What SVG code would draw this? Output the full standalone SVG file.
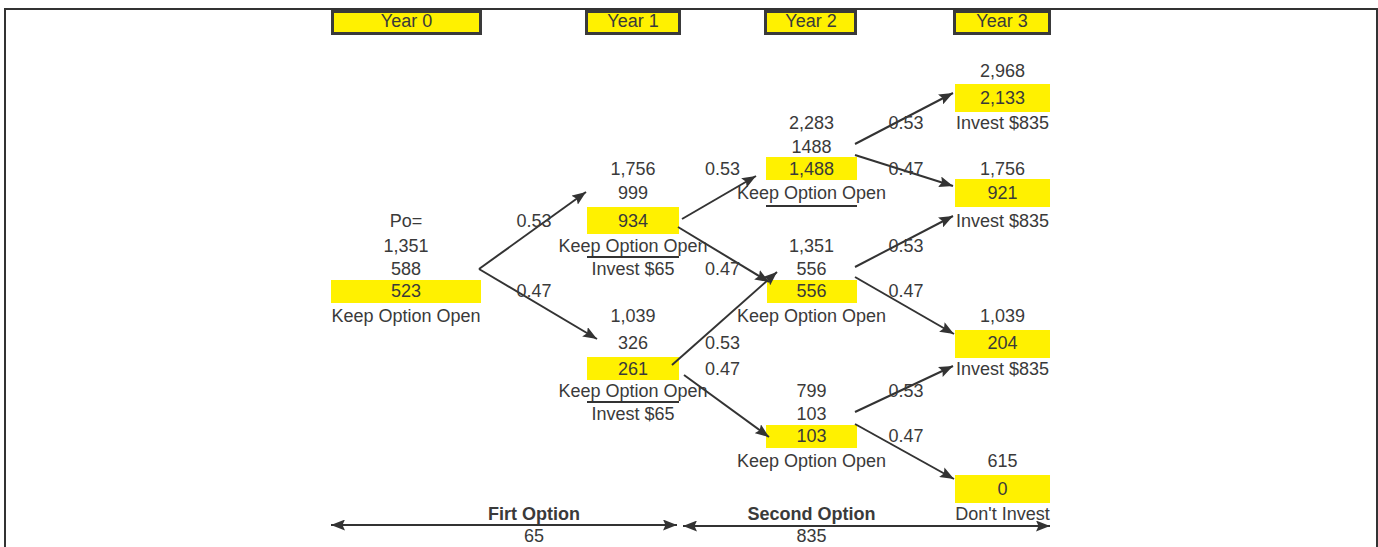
<svg xmlns="http://www.w3.org/2000/svg" width="1378" height="547" viewBox="0 0 1378 547">
<style>
text{font-family:"Liberation Sans",Arial,sans-serif;font-size:18px;fill:#3a3a3a;text-anchor:middle}
.b{font-weight:bold}
.y{fill:#FFF100}
.yr{fill:#FFF100;stroke:#3a3a3a;stroke-width:3}
.c{stroke:#333;stroke-width:2;fill:none}
.ul{stroke:#333;stroke-width:2}
</style>
<defs>
<marker id="ah" viewBox="0 0 14 11" refX="14" refY="5.5" markerWidth="14" markerHeight="11" markerUnits="userSpaceOnUse" orient="auto-start-reverse">
<path d="M0,0 L14,5.5 L0,11 L2.5,5.5 z" fill="#333"/>
</marker>
</defs>
<rect x="5" y="9" width="1372" height="600" fill="none" stroke="#333" stroke-width="2"/>

<g id="year0"><rect class="yr" x="332.5" y="11.5" width="148" height="22"/><text x="406.5" y="27">Year 0</text></g>
<g id="year1"><rect class="yr" x="586.5" y="11.5" width="93" height="22"/><text x="633" y="27">Year 1</text></g>
<g id="year2"><rect class="yr" x="765.5" y="11.5" width="90" height="22"/><text x="811" y="27">Year 2</text></g>
<g id="year3"><rect class="yr" x="954.5" y="11.5" width="95" height="22"/><text x="1002" y="27">Year 3</text></g>

<g id="n0">
<text x="406" y="227">Po=</text>
<text x="406" y="252">1,351</text>
<text x="406" y="275">588</text>
<rect class="y" x="331" y="280" width="150" height="23"/>
<text x="406" y="297">523</text>
<text x="406" y="322">Keep Option Open</text>
</g>

<g id="n1u">
<text x="633" y="175">1,756</text>
<text x="633" y="199">999</text>
<rect class="y" x="587" y="207" width="92" height="27"/>
<text x="633" y="227">934</text>
<text x="633" y="252">Keep Option Open</text>
<line class="ul" x1="587" y1="257" x2="679" y2="257"/>
<text x="633" y="275">Invest $65</text>
</g>

<g id="n1d">
<text x="633" y="322">1,039</text>
<text x="633" y="349">326</text>
<rect class="y" x="587" y="357" width="92" height="23"/>
<text x="633" y="375">261</text>
<text x="633" y="397">Keep Option Open</text>
<line class="ul" x1="587" y1="402" x2="679" y2="402"/>
<text x="633" y="420">Invest $65</text>
</g>

<g id="n2u">
<text x="811.5" y="129">2,283</text>
<text x="811.5" y="153">1488</text>
<rect class="y" x="766" y="157" width="91" height="23"/>
<text x="811.5" y="175">1,488</text>
<text x="811.5" y="199">Keep Option Open</text>
<line class="ul" x1="766" y1="206" x2="857" y2="206"/>
</g>

<g id="n2m">
<text x="811.5" y="252">1,351</text>
<text x="811.5" y="275">556</text>
<rect class="y" x="767" y="280" width="90" height="23"/>
<text x="811.5" y="297">556</text>
<text x="811.5" y="322">Keep Option Open</text>
</g>

<g id="n2d">
<text x="811.5" y="397">799</text>
<text x="811.5" y="420">103</text>
<rect class="y" x="766" y="425" width="91" height="23"/>
<text x="811.5" y="442">103</text>
<text x="811.5" y="466.5">Keep Option Open</text>
</g>

<g id="n3a">
<text x="1002.5" y="76.5">2,968</text>
<rect class="y" x="955" y="84" width="95" height="28"/>
<text x="1002.5" y="104">2,133</text>
<text x="1002.5" y="129">Invest $835</text>
</g>

<g id="n3b">
<text x="1002.5" y="175">1,756</text>
<rect class="y" x="955" y="179" width="95" height="28"/>
<text x="1002.5" y="199">921</text>
<text x="1002.5" y="227">Invest $835</text>
</g>

<g id="n3c">
<text x="1002.5" y="322">1,039</text>
<rect class="y" x="955" y="330" width="95" height="28"/>
<text x="1002.5" y="349">204</text>
<text x="1002.5" y="375">Invest $835</text>
</g>

<g id="n3d">
<text x="1002.5" y="467">615</text>
<rect class="y" x="955" y="475" width="95" height="28"/>
<text x="1002.5" y="495">0</text>
<text x="1002.5" y="520">Don't Invest</text>
</g>

<g id="connectors">
<line class="c" x1="479" y1="269" x2="586" y2="192" marker-end="url(#ah)"/>
<line class="c" x1="479" y1="269" x2="597" y2="339" marker-end="url(#ah)"/>
<line class="c" x1="682" y1="219" x2="756" y2="176" marker-end="url(#ah)"/>
<line class="c" x1="678" y1="227" x2="769" y2="282" marker-end="url(#ah)"/>
<line class="c" x1="672" y1="365" x2="777" y2="272" marker-end="url(#ah)"/>
<line class="c" x1="684" y1="375" x2="769" y2="437" marker-end="url(#ah)"/>
<line class="c" x1="855" y1="144" x2="953" y2="93" marker-end="url(#ah)"/>
<line class="c" x1="855" y1="155" x2="953" y2="186" marker-end="url(#ah)"/>
<line class="c" x1="855" y1="267" x2="953" y2="216" marker-end="url(#ah)"/>
<line class="c" x1="855" y1="277" x2="954" y2="334" marker-end="url(#ah)"/>
<line class="c" x1="855" y1="412" x2="953" y2="366" marker-end="url(#ah)"/>
<line class="c" x1="855" y1="424" x2="954" y2="479" marker-end="url(#ah)"/>
<line class="c" x1="331" y1="525" x2="677" y2="525" stroke-width="2.5" marker-start="url(#ah)" marker-end="url(#ah)"/>
<line class="c" x1="683" y1="526" x2="1050" y2="526" stroke-width="2.5" marker-start="url(#ah)" marker-end="url(#ah)"/>
</g>

<g id="probs">
<text x="534" y="227">0.53</text>
<text x="534" y="297">0.47</text>
<text x="722.5" y="175">0.53</text>
<text x="722.5" y="275">0.47</text>
<text x="722.5" y="349">0.53</text>
<text x="722.5" y="375">0.47</text>
<text x="906" y="129">0.53</text>
<text x="906" y="175">0.47</text>
<text x="906" y="252">0.53</text>
<text x="906" y="297">0.47</text>
<text x="906" y="397">0.53</text>
<text x="906" y="442">0.47</text>
</g>

<g id="labels">
<text class="b" x="534" y="520">Firt Option</text>
<text x="534" y="542">65</text>
<text class="b" x="811.5" y="520">Second Option</text>
<text x="811.5" y="542">835</text>
</g>
</svg>
